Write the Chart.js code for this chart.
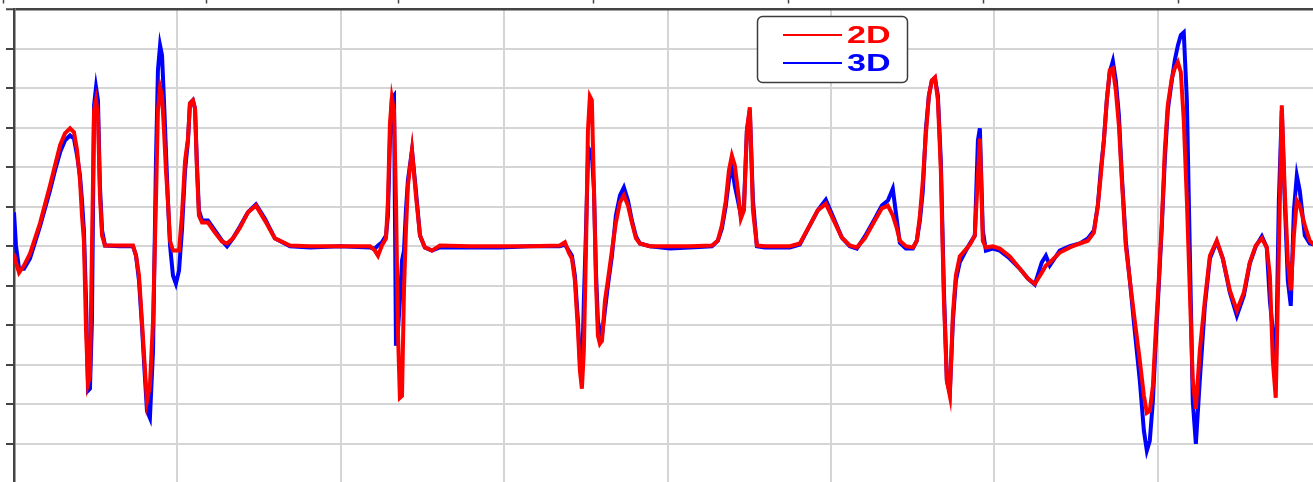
<!DOCTYPE html>
<html>
<head>
<meta charset="utf-8">
<script src="https://cdn.jsdelivr.net/npm/chart.js@4.4.0/dist/chart.umd.min.js"></script>
<style>
  html, body { margin: 0; padding: 0; background: #fff; overflow: hidden; }
  #wrap { width: 1321px; height: 483px; }
</style>
</head>
<body>
<div id="wrap"><canvas id="myLine" width="1321" height="483"></canvas></div>
<script>
const Chart = window.Chart;

// sample positions along the x axis (one grid step = 1)
const timeAxis = [
  0, 0.012, 0.031, 0.061, 0.098, 0.159, 0.220, 0.251, 0.282, 0.312,
  0.343, 0.367, 0.386, 0.404, 0.416, 0.428, 0.441, 0.453, 0.465, 0.477,
  0.490, 0.502, 0.514, 0.526, 0.539, 0.557, 0.649, 0.728, 0.747, 0.765,
  0.783, 0.802, 0.814, 0.832, 0.851, 0.869, 0.881, 0.894, 0.906, 0.918,
  0.930, 0.942, 0.955, 0.973, 0.991, 1.010, 1.028, 1.047, 1.065, 1.077,
  1.095, 1.108, 1.120, 1.132, 1.151, 1.187, 1.230, 1.273, 1.304, 1.340,
  1.383, 1.432, 1.481, 1.536, 1.597, 1.689, 1.812, 1.995, 2.179, 2.209,
  2.228, 2.252, 2.277, 2.289, 2.301, 2.313, 2.326, 2.338, 2.350, 2.362,
  2.375, 2.387, 2.399, 2.411, 2.436, 2.460, 2.485, 2.515, 2.558, 2.607,
  2.791, 2.974, 3.158, 3.341, 3.372, 3.396, 3.415, 3.433, 3.452, 3.464,
  3.476, 3.488, 3.501, 3.513, 3.525, 3.537, 3.550, 3.562, 3.574, 3.586,
  3.599, 3.617, 3.635, 3.660, 3.684, 3.709, 3.733, 3.758, 3.782, 3.807,
  3.831, 3.892, 4.015, 4.137, 4.272, 4.308, 4.333, 4.357, 4.376, 4.394,
  4.412, 4.431, 4.449, 4.468, 4.486, 4.504, 4.523, 4.547, 4.596, 4.749,
  4.810, 4.871, 4.920, 4.969, 5.018, 5.067, 5.116, 5.159, 5.208, 5.269,
  5.312, 5.349, 5.379, 5.404, 5.422, 5.459, 5.502, 5.526, 5.545, 5.563,
  5.581, 5.600, 5.618, 5.637, 5.655, 5.673, 5.692, 5.710, 5.728, 5.747,
  5.765, 5.789, 5.820, 5.851, 5.881, 5.900, 5.912, 5.930, 5.949, 5.991,
  6.034, 6.095, 6.157, 6.206, 6.248, 6.291, 6.316, 6.340, 6.401, 6.463,
  6.524, 6.573, 6.610, 6.634, 6.652, 6.671, 6.689, 6.707, 6.726, 6.744,
  6.763, 6.781, 6.805, 6.830, 6.860, 6.891, 6.916, 6.934, 6.952, 6.971,
  6.989, 7.007, 7.026, 7.044, 7.062, 7.087, 7.105, 7.124, 7.142, 7.160,
  7.179, 7.197, 7.215, 7.234, 7.258, 7.289, 7.320, 7.362, 7.399, 7.442,
  7.485, 7.528, 7.564, 7.601, 7.638, 7.668, 7.687, 7.705, 7.723, 7.742,
  7.760, 7.778, 7.797, 7.815, 7.834, 7.852, 7.870, 7.901, 7.931, 7.962
];

const series2D = [
  -0.19, -0.41, -0.67, -0.49, -0.19, 0.58, 1.53, 2.05, 2.56, 2.86,
  2.99, 2.89, 2.43, 1.67, 0.78, 0.14, -2.14, -3.48, -3.28, -0.11,
  3.44, 3.70, 3.32, 1.29, 0.27, 0.02, 0.02, 0.02, -0.24, -0.74,
  -1.89, -3.16, -3.92, -3.54, -1.89, 1.16, 3.44, 4.03, 3.82, 2.94,
  1.92, 1.16, 0.14, -0.11, -0.11, -0.11, 0.78, 2.17, 2.73, 3.62,
  3.70, 3.49, 1.92, 0.78, 0.60, 0.60, 0.35, 0.12, 0.07, 0.20,
  0.47, 0.86, 1.03, 0.65, 0.20, 0.02, 0, 0, 0, -0.11,
  -0.24, 0.02, 0.20, 1.16, 3.11, 3.75, 3.44, 1.16, -2.14, -3.84,
  -3.79, -1.12, 0.40, 1.53, 2.43, 1.29, 0.27, -0.03, -0.11, 0.02,
  0, 0, 0, 0.02, 0.10, -0.16, -0.31, -0.87, -2.14, -3.16,
  -3.61, -2.65, -0.11, 2.94, 3.80, 3.70, 1.41, -0.87, -2.27, -2.47,
  -2.39, -1.38, -0.87, -0.11, 0.60, 1.11, 1.29, 1.03, 0.60, 0.20,
  0.07, 0, 0, 0, 0.02, 0.14, 0.53, 1.16, 1.92, 2.30,
  2.05, 1.41, 0.70, 0.91, 2.94, 3.52, 0.91, 0.02, 0, 0,
  0.07, 0.53, 0.91, 1.08, 0.65, 0.22, 0.02, -0.03, 0.20, 0.65,
  0.96, 1.03, 0.78, 0.45, 0.14, 0, -0.03, 0.14, 0.78, 1.67,
  2.81, 3.82, 4.20, 4.28, 3.70, 1.92, -1.38, -3.41, -3.79, -1.71,
  -0.74, -0.26, -0.11, 0.04, 0.27, 1.79, 2.73, 0.14, -0.03, 0,
  -0.06, -0.26, -0.57, -0.82, -0.95, -0.67, -0.49, -0.41, -0.16, -0.03,
  0.07, 0.14, 0.35, 1.03, 1.79, 2.68, 3.70, 4.46, 4.51, 3.95,
  3.06, 1.67, 0.02, -0.87, -1.89, -2.90, -3.79, -4.22, -4.17, -3.54,
  -2.14, -0.87, 0.65, 2.43, 3.57, 4.26, 4.51, 4.66, 4.41, 3.19,
  1.16, -1.12, -3.41, -4.12, -2.65, -1.38, -0.24, 0.14, -0.31, -1.12,
  -1.63, -1.17, -0.41, 0.02, 0.20, -0.03, -0.74, -2.90, -3.84, -0.11,
  3.57, 1.41, -0.36, -1.12, 0.27, 1.16, 1.03, 0.53, 0.14, 0.02
];

const series3D = [
  0.86, 0.02, -0.57, -0.57, -0.31, 0.50, 1.41, 1.92, 2.38, 2.68,
  2.81, 2.73, 2.30, 1.79, 1.16, 0.40, -1.38, -3.66, -3.61, -1.89,
  3.57, 4.03, 3.70, 1.53, 0.40, 0.02, 0, 0, -0.24, -0.87,
  -2.01, -3.36, -4.17, -4.35, -2.65, 2.17, 4.46, 5.09, 4.84, 3.70,
  2.43, 1.16, 0.02, -0.74, -0.95, -0.62, 0.40, 1.92, 2.68, 3.62,
  3.70, 3.49, 2.05, 0.91, 0.65, 0.65, 0.40, 0.14, 0, 0.20,
  0.50, 0.86, 1.06, 0.70, 0.20, 0, -0.03, 0, -0.03, -0.06,
  0.02, 0.10, 0.27, 0.78, 2.68, 3.75, 3.82, -2.52, -2.14, -1.38,
  -0.36, -0.11, 0.91, 1.67, 2.43, 1.41, 0.27, -0.03, -0.11, -0.03,
  -0.03, -0.03, 0, 0, 0.04, -0.11, -0.24, -0.74, -1.89, -2.90,
  -3.41, -1.38, 0.40, 2.18, 2.43, 2.35, 1.41, -0.62, -1.89, -2.14,
  -2.27, -1.63, -1.00, -0.24, 0.78, 1.29, 1.49, 1.16, 0.65, 0.25,
  0.07, 0, -0.06, -0.03, 0, 0.14, 0.45, 1.03, 1.67, 2.05,
  1.53, 1.16, 0.78, 1.03, 2.94, 3.44, 1.16, 0, -0.03, -0.03,
  0.04, 0.53, 0.91, 1.18, 0.70, 0.22, 0, -0.06, 0.25, 0.70,
  1.03, 1.16, 1.46, 0.65, 0.09, -0.06, -0.06, 0.14, 0.65, 1.41,
  2.94, 3.82, 4.20, 4.26, 3.82, 2.18, -1.12, -3.41, -3.71, -1.89,
  -0.87, -0.41, -0.16, 0.07, 0.27, 2.68, 2.99, 0.40, -0.11, -0.06,
  -0.11, -0.31, -0.57, -0.82, -0.97, -0.41, -0.24, -0.49, -0.11, 0,
  0.07, 0.20, 0.40, 1.03, 1.92, 2.68, 3.70, 4.41, 4.69, 4.20,
  3.32, 1.79, 0.14, -0.87, -2.14, -3.41, -4.68, -5.18, -4.93, -3.92,
  -2.39, -1.00, 0.53, 2.18, 3.44, 4.21, 4.71, 5.09, 5.35, 5.42,
  3.70, -0.11, -3.92, -5.01, -3.41, -1.51, -0.31, 0.12, -0.31, -1.17,
  -1.76, -1.25, -0.44, 0, 0.25, -0.03, -1.38, -2.14, -3.41, 1.16,
  3.44, 1.16, -0.87, -1.51, 0.91, 1.79, 1.41, 0.27, 0.07, 0.04
];

const seriesLabels = ['2D', '3D'];
const seriesColors = ['rgb(255, 0, 0)', 'rgb(0, 0, 255)'];

// short marks along the top edge (cut-off axis above this panel)
const topTickValues = [-0.07, 1.175, 2.35, 3.543, 4.737, 5.93, 7.124];

const axisColor = '#444444';
const gridColor = '#d5d5d5';

function toPoints(values) {
  return timeAxis.map((t, i) => ({ x: t, y: values[i] }));
}

const frameLegend = {
  id: 'frameLegend',
  afterDraw(chart) {
    const ctx = chart.ctx;
    const xs = chart.scales.x;
    ctx.save();
    // top edge tick marks
    ctx.strokeStyle = axisColor;
    ctx.lineWidth = 1.5;
    for (const v of topTickValues) {
      const px = Math.round(xs.getPixelForValue(v)) + 0.5;
      ctx.beginPath();
      ctx.moveTo(px, 0);
      ctx.lineTo(px, 3.5);
      ctx.stroke();
    }
    // legend box
    ctx.beginPath();
    ctx.roundRect(757.5, 16.5, 150, 66, 5);
    ctx.fillStyle = '#ffffff';
    ctx.fill();
    ctx.strokeStyle = '#3c3c3c';
    ctx.lineWidth = 1.5;
    ctx.stroke();
    chart.data.datasets.forEach((ds, i) => {
      const y = 35 + i * 28;
      ctx.strokeStyle = ds.borderColor;
      ctx.lineWidth = 2;
      ctx.beginPath();
      ctx.moveTo(783, y);
      ctx.lineTo(842, y);
      ctx.stroke();
      ctx.save();
      ctx.translate(847, y + 1);
      ctx.scale(1.42, 1);
      ctx.fillStyle = ds.borderColor;
      ctx.font = 'bold 24px "Liberation Sans", Arial, sans-serif';
      ctx.textBaseline = 'middle';
      ctx.fillText(ds.label, 0, 0);
      ctx.restore();
    });
    ctx.restore();
  }
};

const lineCtx = document.getElementById('myLine').getContext('2d');
new Chart(lineCtx, {
  type: 'line',
  data: {
    datasets: [series2D, series3D].map((vals, i) => ({
      label: seriesLabels[i],
      data: toPoints(vals),
      borderColor: seriesColors[i],
      backgroundColor: seriesColors[i],
      borderWidth: 4,
      pointRadius: 0,
      lineTension: 0,
      fill: false
    }))
  },
  options: {
    responsive: false,
    animation: false,
    events: [],
    layout: { padding: { left: 6, top: 9.5, right: 0, bottom: 0 } },
    plugins: {
      legend: { display: false },
      tooltip: { enabled: false }
    },
    scales: {
      x: {
        type: 'linear',
        min: 0,
        max: 8,
        ticks: { display: false, stepSize: 1 },
        grid: {
          color: gridColor,
          lineWidth: 2,
          drawTicks: false
        },
        border: { display: false }
      },
      y: {
        type: 'linear',
        min: -6,
        max: 6,
        ticks: { display: false, stepSize: 1 },
        grid: {
          color: c => (c.tick && c.tick.value === 6 ? axisColor : gridColor),
          lineWidth: c => (c.tick && c.tick.value === 6 ? 2.5 : 2),
          tickColor: axisColor,
          tickWidth: 2,
          tickLength: 8
        },
        border: { display: true, color: axisColor, width: 2.5 }
      }
    }
  },
  plugins: [frameLegend]
});
</script>
</body>
</html>
